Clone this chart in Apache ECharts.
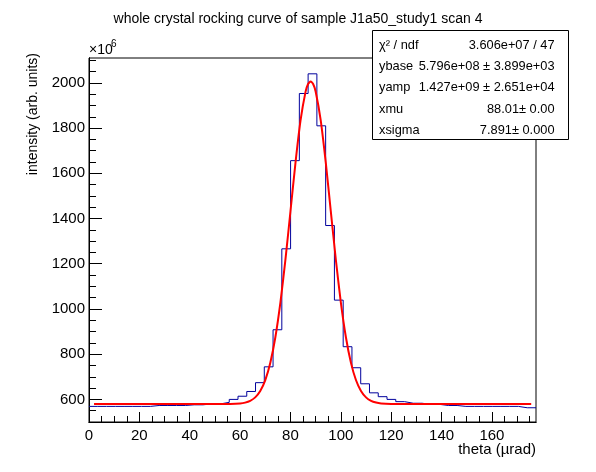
<!DOCTYPE html>
<html>
<head>
<meta charset="utf-8">
<script src="https://cdn.jsdelivr.net/npm/echarts@6/dist/echarts.min.js"></script>
<style>
html,body{margin:0;padding:0;background:#fff;}
#chart{width:596px;height:472px;}
</style>
</head>
<body>
<div id="chart"></div>
<script>
// ---- data (values in units of 1e6) ----
const chartTitle = 'whole crystal rocking curve of sample J1a50_study1 scan 4';
const xTitle = 'theta (\u00b5rad)';
const yTitle = 'intensity (arb. units)';
const histMin = 0;
const histMax = 177.5;
const histValues = [569,569,569,569,569,569,569,573,573,573,573,576,576,580,580,
  587,600,614,635,674,744,908,1266,1656,1953,2040,1810,1369,1039,833,740,669,629,612,600,590,
  583,583,578,578,573,573,569,569,569,569,569,569,569,563,563];
const fitX = [2,50,56,60,62,64,66,68,70,72,74,76,78,80,82,84,86,87,88,89,90,92,94,96,98,100,102,104,106,108,110,112,114,116,120,126,175.6];
const fitY = [579.6,579.6,580.0,582.2,585.8,593.5,608.8,636.9,685.2,761.8,874.7,1027.8,1217.9,1432.1,1647.4,1833.8,1961.1,1994.9,2006.6,1995.0,1962.0,1835.4,1649.4,1434.2,1219.9,1029.4,876.0,762.7,685.8,637.3,609.0,593.6,585.9,582.2,579.9,579.6,579.6];
const xMajorTicks = [0,20,40,60,80,100,120,140,160];
const xMinorTicks = [5,10,15,25,30,35,45,50,55,65,70,75,85,90,95,105,110,115,125,130,135,145,150,155,165,170,175];
const yMajorTicks = [600,800,1000,1200,1400,1600,1800,2000];
const yMinorTicks = [550,650,700,750,850,900,950,1050,1100,1150,1250,1300,1350,1450,1500,1550,1650,1700,1750,1850,1900,1950,2050,2100];
const yMin = 500, yMax = 2110;
const statNames = ['\u03c7\u00b2 / ndf','ybase','yamp','xmu','xsigma'];
const statValues = ['3.606e+07 / 47','5.796e+08 \u00b1 3.899e+03','1.427e+09 \u00b1 2.651e+04','88.01\u00b1 0.00','7.891\u00b1 0.000'];

// ---- build ----
const FONT = '"Liberation Sans", Arial, Helvetica, sans-serif';
const binW = (histMax - histMin) / histValues.length;
const histData = histValues.map((v, i) => [histMin + i * binW, v]);
histData.push([histMax, histValues[histValues.length - 1]]);
const fitData = fitX.map((x, i) => [x, fitY[i]]);

const chart = echarts.init(document.getElementById('chart'), null, {renderer: 'canvas'});

function xAxisCfg(ticks, len, labels) {
  return {
    type: 'value', min: histMin, max: histMax, position: 'bottom',
    axisLine: {show: true, onZero: false, lineStyle: {color: '#000', width: 1}},
    axisTick: {show: true, inside: true, length: len, customValues: ticks, lineStyle: {color: '#000', width: 1}},
    axisLabel: labels ? {show: true, customValues: ticks, color: '#000', fontSize: 15, fontFamily: FONT, margin: 6,
                         formatter: v => String(v)} : {show: false},
    splitLine: {show: false}
  };
}
function yAxisCfg(ticks, len, labels) {
  return {
    type: 'value', min: yMin, max: yMax, position: 'left',
    axisLine: {show: true, onZero: false, lineStyle: {color: '#000', width: 1}},
    axisTick: {show: true, inside: true, length: len, customValues: ticks, lineStyle: {color: '#000', width: 1}},
    axisLabel: labels ? {show: true, customValues: ticks, color: '#000', fontSize: 15, fontFamily: FONT, margin: 4,
                         formatter: v => String(v)} : {show: false},
    splitLine: {show: false}
  };
}

const statRowY = [45, 66.5, 87.5, 109, 130];
const graphics = [
  {type: 'text', x: 33.5, y: 53, rotation: Math.PI / 2, z: 100,
   style: {text: yTitle, fill: '#000', fontSize: 14, fontFamily: FONT, textAlign: 'right', textVerticalAlign: 'middle'}},
  {type: 'text', x: 536, y: 450, z: 100,
   style: {text: xTitle, fill: '#000', fontSize: 15, fontFamily: FONT, textAlign: 'right', textVerticalAlign: 'middle'}},
  {type: 'text', x: 89, y: 50, z: 100,
   style: {text: '\u00d710', fill: '#000', fontSize: 14, fontFamily: FONT, textAlign: 'left', textVerticalAlign: 'middle'}},
  {type: 'text', x: 111, y: 44, z: 100,
   style: {text: '6', fill: '#000', fontSize: 10, fontFamily: FONT, textAlign: 'left', textVerticalAlign: 'middle'}},
  {type: 'rect', z: 100, shape: {x: 372.5, y: 30.5, width: 196, height: 109},
   style: {fill: '#fff', stroke: '#000', lineWidth: 1}}
];
statNames.forEach((n, i) => {
  graphics.push({type: 'text', x: 379, y: statRowY[i], z: 101,
    style: {text: n, fill: '#000', fontSize: 12.8, fontFamily: FONT, textAlign: 'left', textVerticalAlign: 'middle'}});
  graphics.push({type: 'text', x: 554.5, y: statRowY[i], z: 101,
    style: {text: statValues[i], fill: '#000', fontSize: 12.8, fontFamily: FONT, textAlign: 'right', textVerticalAlign: 'middle'}});
});

chart.setOption({
  animation: false,
  backgroundColor: '#fff',
  textStyle: {fontFamily: FONT},
  title: {text: chartTitle, left: 'center', top: 7,
          textStyle: {fontSize: 14, fontWeight: 'normal', color: '#000', fontFamily: FONT}},
  grid: {left: 89, right: 60, top: 58, bottom: 50, show: true, borderColor: '#000', borderWidth: 1, backgroundColor: 'transparent', containLabel: false},
  xAxis: [xAxisCfg(xMajorTicks, 10, true), xAxisCfg(xMinorTicks, 6, false)],
  yAxis: [yAxisCfg(yMajorTicks, 13, true), yAxisCfg(yMinorTicks, 7, false)],
  series: [
    {type: 'line', name: 'hist', xAxisIndex: 0, yAxisIndex: 0, data: histData, step: 'end',
     symbol: 'none', lineStyle: {color: '#00009c', width: 1}, z: 2, silent: true},
    {type: 'line', name: 'fit', xAxisIndex: 0, yAxisIndex: 0, data: fitData, smooth: 0.2,
     symbol: 'none', lineStyle: {color: '#ff0000', width: 2}, z: 3, silent: true}
  ],
  graphic: graphics
});
</script>
</body>
</html>
